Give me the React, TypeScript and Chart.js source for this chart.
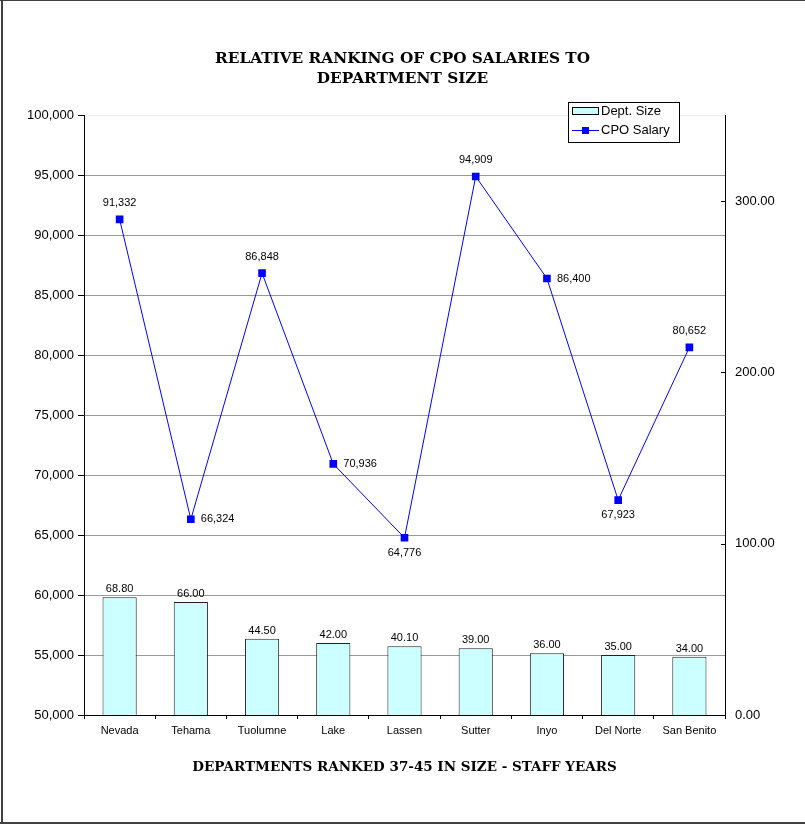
import React, { useEffect, useRef } from 'react';
import { Chart, registerables } from 'chart.js';

Chart.register(...registerables);

const categories = ['Nevada', 'Tehama', 'Tuolumne', 'Lake', 'Lassen', 'Sutter', 'Inyo', 'Del Norte', 'San Benito'];
const deptSize = [68.8, 66.0, 44.5, 42.0, 40.1, 39.0, 36.0, 35.0, 34.0];
const cpoSalary = [91332, 66324, 86848, 70936, 64776, 94909, 86400, 67923, 80652];
const salaryLabelPos = ['top', 'right', 'top', 'right', 'bottom', 'top', 'right', 'bottom', 'top'];
const titleLines = ['RELATIVE RANKING OF CPO SALARIES TO', 'DEPARTMENT SIZE'];
const xAxisTitle = 'DEPARTMENTS RANKED 37-45 IN SIZE - STAFF YEARS';
const seriesNames = ['Dept. Size', 'CPO Salary'];

const W = 805;
const H = 824;
const SANS = '"Liberation Sans", Arial, sans-serif';
const SERIF = '"DejaVu Serif", "Liberation Serif", serif';
const BAR_FILL = '#CCFFFF';
const LINE_BLUE = '#0000FF';

const fmt = (v: number) => String(Math.round(v)).replace(/\B(?=(\d{3})+(?!\d))/g, ',');

const extras = {
  id: 'extras',
  afterDraw(chart: any) {
    const ctx = chart.ctx as CanvasRenderingContext2D;
    const ca = chart.chartArea;
    ctx.save();

    // inward tick marks on right axis
    const y1 = chart.scales.y1;
    ctx.strokeStyle = '#000';
    ctx.lineWidth = 1;
    y1.ticks.forEach((t: any) => {
      const y = Math.round(y1.getPixelForValue(t.value)) + 0.5;
      ctx.beginPath();
      ctx.moveTo(ca.right - 4, y);
      ctx.lineTo(ca.right, y);
      ctx.stroke();
    });

    // data labels
    ctx.font = '11px ' + SANS;
    ctx.fillStyle = '#000';
    const barMeta = chart.getDatasetMeta(0);
    barMeta.data.forEach((el: any, i: number) => {
      ctx.textAlign = 'center';
      ctx.textBaseline = 'middle';
      ctx.fillText(deptSize[i].toFixed(2), el.x, el.y - 8);
    });
    const lineMeta = chart.getDatasetMeta(1);
    lineMeta.data.forEach((el: any, i: number) => {
      const txt = fmt(cpoSalary[i]);
      const pos = salaryLabelPos[i];
      ctx.textBaseline = 'middle';
      if (pos === 'top') {
        ctx.textAlign = 'center';
        ctx.fillText(txt, el.x, el.y - 16);
      } else if (pos === 'bottom') {
        ctx.textAlign = 'center';
        ctx.fillText(txt, el.x, el.y + 15);
      } else {
        ctx.textAlign = 'left';
        ctx.fillText(txt, el.x + 10, el.y);
      }
    });

    // legend
    const lx = 568.5, ly = 102.5, lw = 111, lh = 40;
    ctx.fillStyle = '#fff';
    ctx.fillRect(lx, ly, lw, lh);
    ctx.strokeStyle = '#000';
    ctx.strokeRect(lx, ly, lw, lh);
    ctx.fillStyle = BAR_FILL;
    ctx.fillRect(572.5, 107.5, 26, 7);
    ctx.strokeRect(572.5, 107.5, 26, 7);
    ctx.strokeStyle = LINE_BLUE;
    ctx.beginPath();
    ctx.moveTo(572, 130.5);
    ctx.lineTo(599, 130.5);
    ctx.stroke();
    ctx.fillStyle = LINE_BLUE;
    ctx.fillRect(582, 127, 7, 7);
    ctx.fillStyle = '#000';
    ctx.font = '13px ' + SANS;
    ctx.textAlign = 'left';
    ctx.textBaseline = 'middle';
    ctx.fillText(seriesNames[0], 601, 111);
    ctx.fillText(seriesNames[1], 601, 130.5);

    // outer frame
    ctx.fillStyle = '#404040';
    ctx.fillRect(1, 0, 2, H);
    ctx.fillRect(0, 0, W, 1);
    ctx.fillRect(0, H - 2, W, 2);
    ctx.restore();
  },
};

export default function App() {
  const ref = useRef<HTMLCanvasElement | null>(null);

  useEffect(() => {
    document.body.style.margin = '0';
    const canvas = ref.current;
    if (!canvas) return;
    const chart = new Chart(canvas, {
      type: 'bar',
      data: {
        labels: categories,
        datasets: [
          {
            type: 'bar',
            label: seriesNames[0],
            data: deptSize,
            yAxisID: 'y1',
            backgroundColor: BAR_FILL,
            borderColor: '#222',
            borderWidth: 1,
            barPercentage: 0.48,
            categoryPercentage: 1,
            order: 2,
          },
          {
            type: 'line',
            label: seriesNames[1],
            data: cpoSalary,
            yAxisID: 'y',
            borderColor: LINE_BLUE,
            backgroundColor: LINE_BLUE,
            borderWidth: 1,
            pointStyle: 'rect',
            pointRadius: 5.4,
            pointBorderWidth: 0,
            tension: 0,
            order: 1,
          },
        ],
      } as any,
      plugins: [extras],
      options: {
        animation: false,
        responsive: false,
        devicePixelRatio: 1,
        layout: { padding: { top: 49, left: 0, right: 0, bottom: 0 } },
        plugins: {
          legend: { display: false },
          tooltip: { enabled: false },
          title: {
            display: true,
            text: titleLines,
            color: '#000',
            font: { family: SERIF, size: 15.3, weight: 'bold', lineHeight: 1.32 },
            padding: { top: 0, bottom: 26 },
          },
        },
        scales: {
          x: {
            offset: true,
            grid: {
              display: true,
              offset: true,
              drawOnChartArea: false,
              tickLength: 4,
              tickColor: '#000',
            },
            border: { display: true, color: '#000', width: 1 },
            ticks: { color: '#000', font: { family: SANS, size: 11 }, padding: 5, maxRotation: 0, autoSkip: false },
            title: {
              display: true,
              text: xAxisTitle,
              color: '#000',
              font: { family: SERIF, size: 13.5, weight: 'bold', lineHeight: 1.2 },
              padding: { top: 0, bottom: 48 },
            },
            afterFit: (s: any) => { s.height = H - 715; },
          },
          y: {
            position: 'left',
            min: 50000,
            max: 100000,
            ticks: {
              stepSize: 5000,
              color: '#000',
              font: { family: SANS, size: 13 },
              padding: 4,
              callback: (v: any) => fmt(Number(v)),
            },
            grid: {
              color: (c: any) => (c.tick && c.tick.value === 100000 ? '#ececec' : '#999'),
              tickColor: '#000',
              tickLength: 6,
            },
            border: { display: true, color: '#000', width: 1 },
            afterFit: (s: any) => { s.width = 84; },
          },
          y1: {
            position: 'right',
            min: 0,
            max: 350,
            ticks: {
              stepSize: 100,
              includeBounds: false,
              color: '#000',
              font: { family: SANS, size: 13 },
              padding: 10,
              callback: (v: any) => Number(v).toFixed(2),
            },
            grid: { display: false, drawTicks: false },
            border: { display: true, color: '#000', width: 1 },
            afterFit: (s: any) => { s.width = W - 725; },
          },
        },
      } as any,
    });
    return () => chart.destroy();
  }, []);

  return (
    <div style={{ width: W, height: H, background: '#fff' }}>
      <canvas ref={ref} width={W} height={H} style={{ display: 'block', width: W, height: H }} />
    </div>
  );
}
